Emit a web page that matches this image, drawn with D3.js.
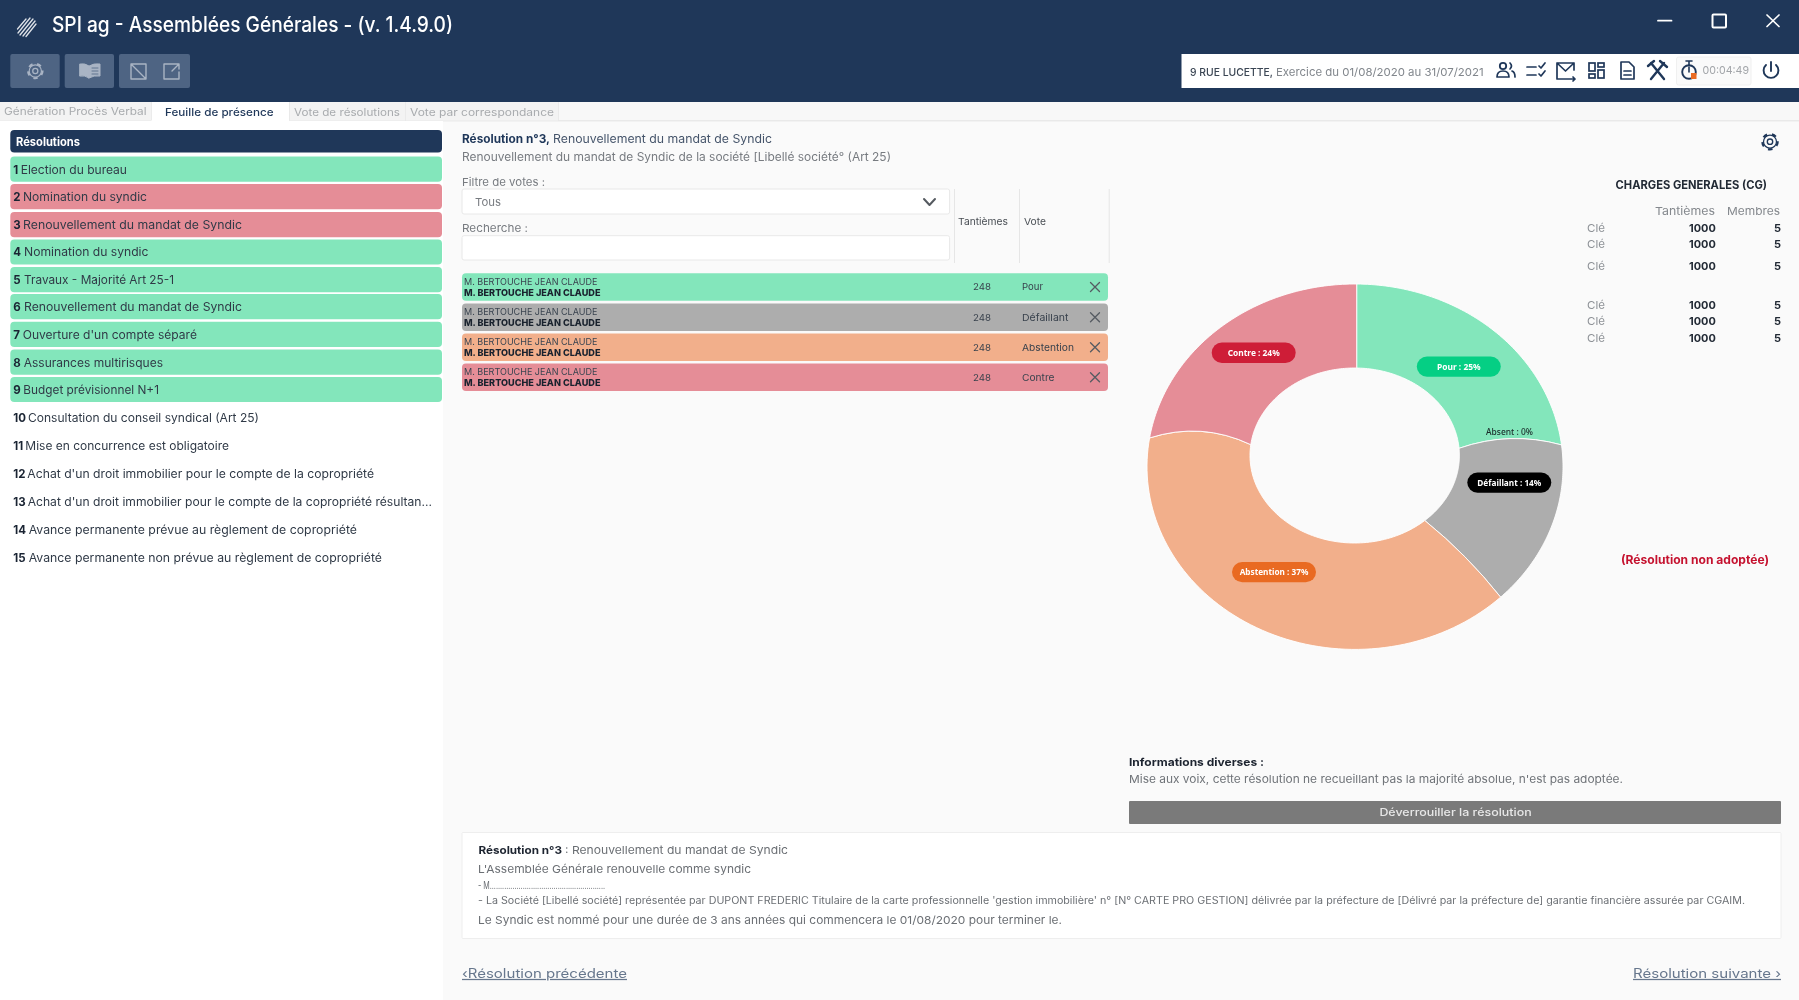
<!DOCTYPE html>
<html lang="fr"><head><meta charset="utf-8"><title>SPI ag</title>
<script src="https://cdn.jsdelivr.net/npm/d3@7/dist/d3.min.js"></script>
<style>html,body{margin:0;padding:0;background:#fafafa;overflow:hidden}svg{display:block;filter:blur(.4px)}text{font-family:Inter,"Open Sans",sans-serif}</style>
</head><body><svg id="c" width="1799" height="1000"></svg>
<script>
// ---- chart data ----
const voteCategories = ["Pour","Défaillant","Absent","Abstention","Contre"];
const voteShares = [24.4,14.2,0,37.6,23.8];
const voteLabels = ["Pour : 25%","Défaillant : 14%","Absent : 0%","Abstention : 37%","Contre : 24%"];
const voteFill = ["#83e6bb","#adadad","#adadad","#f2af8b","#e58d97"];
const votePill = ["#05cf84","#000000",null,"#e96a22","#ce1d37"];
// ---- page content ----
const resolutions = ["Election du bureau","Nomination du syndic","Renouvellement du mandat de Syndic","Nomination du syndic","Travaux - Majorité Art 25-1","Renouvellement du mandat de Syndic","Ouverture d'un compte séparé","Assurances multirisques","Budget prévisionnel N+1","Consultation du conseil syndical (Art 25)","Mise en concurrence est obligatoire","Achat d'un droit immobilier pour le compte de la copropriété","Achat d'un droit immobilier pour le compte de la copropriété résultan...","Avance permanente prévue au règlement de copropriété","Avance permanente non prévue au règlement de copropriété"];
const resolutionState = ["g","r","r","g","g","g","g","g","g","n","n","n","n","n","n"];
const voters = ["Pour","Défaillant","Abstention","Contre"];
const voterName = "M. BERTOUCHE JEAN CLAUDE";
const voterTantiemes = [248,248,248,248];
const chargeTantiemes = [1000,1000,1000,1000,1000,1000];
const chargeMembres = [5,5,5,5,5,5];

// ---- layout ----
const rowFill = {g:"#83e6bb",r:"#e58d97"};
const rowY = [169.2,196.7,224.6,252,279.7,306.7,334.3,362.2,389.5,417.7,445.7,473.8,502,530,558];
const rowTitleX = [20.7,23,23,24,24,24,22.7,23.7,23.3,28,25.3,27.3,27.7,28.7,28.7];
const rowTitleEnd = [127,147,242,148.5,174,242,197,163,159,259,229,374,432,357,382];
const voterRowTop = [273.3,303.5,333.5,363.5];
const voterLabelEnd = [1043,1068.4,1074,1054.5];
const chargeY = [227.7,244.3,265.7,305,321,338];
const navy = "#1f3759", ink="#2a3442", grey="#777b80";

const svg = d3.select("#c");
const rect=(x0,y0,x1,y1,fill,r=0,stroke=null)=>svg.append("rect").attr("x",x0).attr("y",y0).attr("width",x1-x0).attr("height",y1-y0).attr("rx",r).attr("fill",fill).attr("stroke",stroke);
function T(x0,x1,yMid,s,size,fill,weight=400,g=svg,anchor="start"){
  const t=g.append("text").attr("x",x0).attr("y",yMid).attr("dy",".35em").attr("font-size",size).attr("font-weight",weight).attr("fill",fill).attr("text-anchor",anchor).text(s);
  if(x1!=null) t.attr("textLength",x1-x0).attr("lengthAdjust","spacingAndGlyphs");
  return t;
}
const P=(d,stroke,w=1.5,fill="none")=>svg.append("path").attr("d",d).attr("stroke",stroke).attr("stroke-width",w).attr("fill",fill).attr("stroke-linecap","round").attr("stroke-linejoin","round");
function gear(cx,cy,r,col){
  svg.append("circle").attr("cx",cx).attr("cy",cy).attr("r",r*.85).attr("fill","none").attr("stroke",col).attr("stroke-width",r*.25).attr("stroke-dasharray",`${r*.5} ${r*.55}`);
  svg.append("circle").attr("cx",cx).attr("cy",cy).attr("r",r*.72).attr("fill","none").attr("stroke",col).attr("stroke-width",r*.14);
  svg.append("circle").attr("cx",cx).attr("cy",cy).attr("r",r*.3).attr("fill","none").attr("stroke",col).attr("stroke-width",r*.15);
}

// page regions
rect(0,0,1799,102,navy);
rect(0,102,1799,121,"#f8f8f8");
rect(0,120,1799,121.5,"#e9e9e9");
rect(0,121,443,1000,"#ffffff");

// title bar
[[17.5,29,26,19],[18,33,30,18],[20,35,33,19],[23,36,35,21],[26,36.5,36,24]].forEach(l=>P(`M${l[0]} ${l[1]}L${l[2]} ${l[3]}`,"#dfe3e9",1.3));
T(52,453,25,"SPI ag - Assemblées Générales - (v. 1.4.9.0)",21,"#fff",500);
P("M1658 20.7H1671.5","#fff",1.8);
svg.append("rect").attr("x",1712.5).attr("y",14.5).attr("width",13.5).attr("height",13).attr("rx",1).attr("fill","none").attr("stroke","#fff").attr("stroke-width",2);
P("M1767 15L1779 26.5M1779 15L1767 26.5","#fff",1.7);

// toolbar
rect(10.3,54,59.7,88,"#4e6483",2);rect(64.7,54,114,88,"#4e6483",2);rect(119,54,190,88,"#4e6483",2);
gear(35.3,71,8.5,"#a9b4c4");
P("M80 64Q85 63 89 66V78Q85 75 80 76ZM89 66Q94 63 100 64V76Q94 75 89 78Z","#a9b4c4",1,"#a9b4c4");
P("M92 68H98M92 71H98M92 74H98",  "#4e6483",.8);
P("M146 64H131V79H146V64M131 64L146 79M140 64H146V70","#a9b4c4",1.4);
P("M178 64H164V79H179V72M172 71L179 64M174 64H179V69","#a9b4c4",1.4);

// info bar
rect(1181.5,54,1799,88,"#fff");
T(1190,1273,71.7,"9 RUE LUCETTE,",11,"#3b4654",500);
T(1276,1483.6,71.7,"Exercice du 01/08/2020 au 31/07/2021",11,"#81868c");
// people
svg.append("circle").attr("cx",1503).attr("cy",66).attr("r",3.2).attr("fill","none").attr("stroke",navy).attr("stroke-width",1.8);
P("M1497 77Q1497 71 1503 71Q1509 71 1509 77ZM1510 63Q1513 66 1510 69M1512 71Q1515 72 1515 77",navy,1.7);
// checklist
P("M1527 67H1536M1527 75H1536M1539 66L1541 68L1545 63M1539 74L1541 76L1545 71",navy,1.7);
// mail
P("M1574 70V63H1557V79H1570M1557 63L1565.5 71L1574 63M1570 79H1575M1573 77L1575 79L1573 81",navy,1.7);
// grid
[[1589,63,6,8],[1598,63,6,4],[1589,74,6,4],[1598,70,6,8]].forEach(b=>svg.append("rect").attr("x",b[0]).attr("y",b[1]).attr("width",b[2]).attr("height",b[3]).attr("fill","none").attr("stroke",navy).attr("stroke-width",1.7));
// document
P("M1621 62H1629L1634 67V79H1621ZM1624 71H1631M1624 75H1631",navy,1.7);
// tools
P("M1651 63L1664 79M1664 63L1651 79M1648 66L1654 61M1660 61L1667 67",navy,2.4);
// timer
rect(1676.5,57,1751,85,"#fafafa",2,"#f0f0f0");
svg.append("circle").attr("cx",1689).attr("cy",72).attr("r",6.8).attr("fill","none").attr("stroke",navy).attr("stroke-width",1.9);
P("M1686 61H1692M1689 61V65M1689 72V67",navy,1.6);
rect(1691,73,1696.5,79,"#e96a22");
T(1702.5,1749,70,"00:04:49",11,"#a2a5a9");
// power
P("M1766 65A7.4 7.4 0 1 0 1776 65M1771 62V71",navy,1.9);

// tabs
rect(0,102,151,120.5,"#f3f3f3");rect(151,102,289,121,"#fff");rect(289,102,405,120.5,"#f3f3f3");rect(405.7,102,558,120.5,"#f3f3f3");
[151,289,405,558].forEach(x=>rect(x,102,x+.8,120.5,"#e6e6e6"));
T(4,146.6,111,"Génération Procès Verbal",10.5,"#a8abae");
T(165,273.6,112.5,"Feuille de présence",11,navy,500);
T(294,400,112.5,"Vote de résolutions",10.5,"#a8abae");
T(410,554,112.5,"Vote par correspondance",10.5,"#a8abae");

// resolution list
rect(10.3,130,442,152.5,navy,4);
T(16,80,142,"Résolutions",11.5,"#fff",700);
resolutions.forEach((s,i)=>{
  const st=resolutionState[i],y=rowY[i];
  if(st!=="n") rect(10.3,y-12.6,442,y+12.6,rowFill[st],4);
  T(13.3,null,y+.4,String(i+1),11.5,"#1a2433",700);
  T(rowTitleX[i],rowTitleEnd[i],y+.4,s,11.5,"#303a47");
});

// centre heading
T(462,550,138.7,"Résolution n°3,",11.5,navy,700);
T(553,772,138.7,"Renouvellement du mandat de Syndic",11.5,"#46556b");
T(462,891,157,"Renouvellement du mandat de Syndic de la société [Libellé société° (Art 25)",11.5,"#777b80");
T(462,545,181.7,"Filtre de votes :",11,grey);
rect(462,189,949.6,214,"#fff",2,"#e8e8e8");
T(475,501,202,"Tous",11,grey);
P("M924 199L929.5 205L935 199","#555a60",2);
T(462,528,227.7,"Recherche :",11,grey);
rect(462,235.7,949.6,260,"#fff",2,"#e8e8e8");
[954,1019,1108.7].forEach(x=>rect(x,189,x+1,263,"#e6e6e6"));
T(958,1008,222,"Tantièmes",9.5,"#4a4f55");
T(1024,1046,222,"Vote",9.5,"#4a4f55");

// voter rows
voters.forEach((v,i)=>{
  const y=voterRowTop[i],m=y+13.7,f=voteFill[voteCategories.indexOf(v)];
  rect(462,y,1108,y+27.4,f,4);
  T(464,597.4,y+8.4,voterName,9.5,"#3a4450");
  T(464,600.5,y+19.6,voterName,9.5,"#19222e",800);
  T(973,991,m,String(voterTantiemes[i]),9.5,"#39424d");
  T(1022,voterLabelEnd[i],m,v,9.5,"#39424d");
  P(`M1090.5 ${m-4.5}L1099.5 ${m+4.5}M1099.5 ${m-4.5}L1090.5 ${m+4.5}`,"#555b62",1.3);
});

// donut: angles from d3.pie, drawn on a slightly off-centre elliptical ring
const pie = d3.pie().sort(null).value(d=>d.v).startAngle(0).endAngle(2*Math.PI);
const arcs = pie(voteCategories.map((c,i)=>({c,v:voteShares[i],i})));
const hub={x:1356.7,y:451.7,a:208,b:183};
const outer={x:1355,y:466.7,rx:208,ry:182.7};
const inner={x:1354.7,y:455.5,rx:104.7,ry:87.5};
const seamBow=[8,3,3,-10,0];
function onEllipse(th,e){
  const dx=hub.a*Math.sin(th)/e.rx, dy=-hub.b*Math.cos(th)/e.ry;
  const qx=(hub.x-e.x)/e.rx, qy=(hub.y-e.y)/e.ry;
  const A=dx*dx+dy*dy,B=qx*dx+qy*dy,C=qx*qx+qy*qy-1;
  const t=(-B+Math.sqrt(B*B-A*C))/A;
  return [hub.x+t*hub.a*Math.sin(th),hub.y-t*hub.b*Math.cos(th)];
}
function seam(ctx,from,to,bow){ // bow is given for the inner-to-outer direction
  const io = bow.dir>0?[from,to]:[to,from];
  const vx=io[1][0]-io[0][0],vy=io[1][1]-io[0][1],L=Math.hypot(vx,vy);
  ctx.quadraticCurveTo((from[0]+to[0])/2+vy/L*bow.v*2,(from[1]+to[1])/2-vx/L*bow.v*2,to[0],to[1]);
}
function slicePath(d,i){
  const ctx=d3.path(),n=80;
  const ts=d3.range(n+1).map(k=>d.startAngle+(d.endAngle-d.startAngle)*k/n);
  ts.forEach((t,k)=>{const p=onEllipse(t,outer);k?ctx.lineTo(p[0],p[1]):ctx.moveTo(p[0],p[1]);});
  seam(ctx,onEllipse(d.endAngle,outer),onEllipse(d.endAngle,inner),{v:seamBow[i],dir:-1});
  ts.slice().reverse().slice(1).forEach(t=>{const p=onEllipse(t,inner);ctx.lineTo(p[0],p[1]);});
  seam(ctx,onEllipse(d.startAngle,inner),onEllipse(d.startAngle,outer),{v:seamBow[(i+4)%5],dir:1});
  ctx.closePath();
  return ctx.toString();
}
svg.append("g").selectAll("path").data(arcs.filter(d=>d.data.v>0)).join("path")
  .attr("d",d=>slicePath(d,d.data.i)).attr("fill",d=>voteFill[d.data.i]).attr("stroke","#fff").attr("stroke-width",.9);

// slice labels
const pillCentre={Pour:[1458.8,366.6],"Défaillant":[1509.3,482.6],Abstention:[1274,572.1],Contre:[1253.7,352.8]};
const pillTextW={Pour:43.7,"Défaillant":64,Abstention:68.7,Contre:52};
voteCategories.forEach((c,i)=>{
  if(votePill[i]){
    const [cx,cy]=pillCentre[c],w=pillTextW[c];
    rect(cx-42,cy-10.2,cx+42,cy+10.2,votePill[i],10.2);
    const t=T(cx-w/2,cx+w/2,cy,voteLabels[i],9.5,"#fff",700);
    t.style("font-family","'Noto Sans','Open Sans',sans-serif");
  } else {
    T(1486,1533,432,voteLabels[i],9,"#1b2b2a",500).style("font-family","'Noto Sans','Open Sans',sans-serif");
  }
});

// top-right settings and charges table
gear(1770,141.7,9,navy);
T(1615.6,1767,184.5,"CHARGES GENERALES (CG)",11.5,"#222a35",700);
T(1655,1715,210.7,"Tantièmes",11,"#84888d");
T(1727,1780,210.7,"Membres",11,"#84888d");
chargeY.forEach((y,i)=>{
  T(1587,1605,y,"Clé",11,"#8d9196");
  T(1689,1715.8,y,String(chargeTantiemes[i]),11,"#222a35",700);
  T(1781,null,y,String(chargeMembres[i]),11,"#222a35",700,svg,"end");
});
T(1621,1769,559.6,"(Résolution non adoptée)",12,"#c5122f",700);

// informations
T(1129,1264,762.3,"Informations diverses :",11,"#1d2430",700);
T(1129,1623,779.3,"Mise aux voix, cette résolution ne recueillant pas la majorité absolue, n'est pas adoptée.",11,"#6f7378");
rect(1129,801,1781,824,"#7a7a7a",1);
T(1379.4,1531.7,812,"Déverrouiller la résolution",11,"#e8e8e8",500);

// text panel
rect(462,832.5,1781,938.5,"#fff",1,"#eeeeee");
T(478.4,562,850.5,"Résolution n°3",11,"#1d2430",700);
T(565,788,850.5,": Renouvellement du mandat de Syndic",11,"#6b6f74");
T(478,751,869.5,"L'Assemblée Générale renouvelle comme syndic",11,"#6b6f74");
T(478,605,885,"- M........................................................",10,"#6b6f74");
T(478,1745,900.3,"- La Société [Libellé société] représentée par DUPONT FREDERIC Titulaire de la carte professionnelle 'gestion immobilière' n° [N° CARTE PRO GESTION] délivrée par la préfecture de [Délivré par la préfecture de] garantie financière assurée par CGAIM.",10,"#6b6f74");
T(478,1062,920.6,"Le Syndic est nommé pour une durée de 3 ans années qui commencera le 01/08/2020 pour terminer le.",11,"#6b6f74");

// navigation
T(462,627,973.5,"‹Résolution précédente",12.5,"#67778d").attr("text-decoration","underline");
T(1633,1781,973.5,"Résolution suivante ›",12.5,"#67778d").attr("text-decoration","underline");
</script></body></html>
